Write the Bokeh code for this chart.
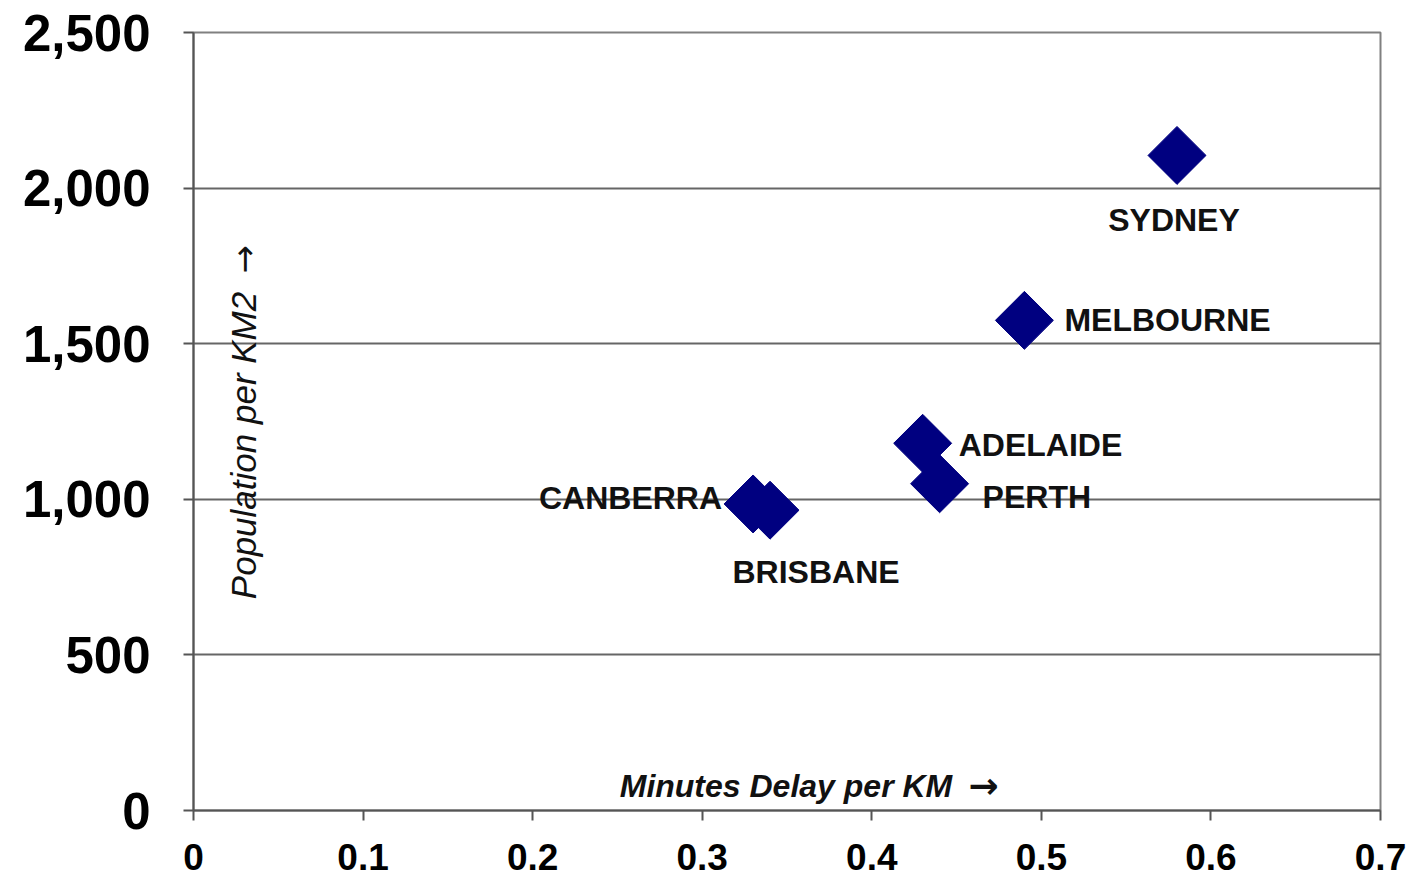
import math
from bokeh.plotting import figure
from bokeh.models import ColumnDataSource, FixedTicker, NumeralTickFormatter, CustomJSTickFormatter, Label
from bokeh.embed import file_html
from bokeh.resources import INLINE
from bokeh.core.properties import value

# ---- data ----
cities = ["SYDNEY", "MELBOURNE", "ADELAIDE", "PERTH", "CANBERRA", "BRISBANE"]
delay_per_km = [0.58, 0.49, 0.43, 0.44, 0.33, 0.34]
population_per_km2 = [2105, 1575, 1180, 1050, 985, 965]
x_ticks = [0, 0.1, 0.2, 0.3, 0.4, 0.5, 0.6, 0.7]
y_ticks = [0, 500, 1000, 1500, 2000, 2500]
x_title = "Minutes Delay per KM"
y_title = "Population per KM2"
arrow = "\u2192"

# ---- label layout (screen pixels) ----
lab_dx = [-3, 40, 36, 43, -31, 46]
lab_dy = [65, 0, 2, 13, -6, 62]
lab_align = ["center", "left", "left", "left", "right", "center"]

FONT = "Liberation Sans"

src = ColumnDataSource(dict(x=delay_per_km, y=population_per_km2, name=cities,
                            dx=lab_dx, dy=lab_dy, align=lab_align))

p = figure(width=1411, height=879, output_backend="svg", toolbar_location=None,
           x_range=(0, 0.7), y_range=(0, 2500),
           min_border_left=193, min_border_right=31, min_border_top=32, min_border_bottom=69)
p.background_fill_color = "white"
p.border_fill_color = "white"
p.outline_line_color = "#808080"
p.outline_line_width = 2

p.xgrid.grid_line_color = None
p.ygrid.grid_line_color = "#666666"
p.ygrid.grid_line_width = 2
p.ygrid.ticker = FixedTicker(ticks=y_ticks)

p.xaxis.ticker = FixedTicker(ticks=x_ticks)
p.xaxis.formatter = CustomJSTickFormatter(code="return tick == 0 ? '0' : tick.toFixed(1);")
p.yaxis.ticker = FixedTicker(ticks=y_ticks)
p.yaxis.formatter = NumeralTickFormatter(format="0,0")

for ax in (p.xaxis[0], p.yaxis[0]):
    ax.axis_line_color = "#555555"
    ax.axis_line_width = 2
    ax.major_tick_line_color = "#555555"
    ax.major_tick_line_width = 2
    ax.major_tick_in = 0
    ax.major_tick_out = 10
    ax.minor_tick_line_color = None
    ax.major_label_text_font = FONT
    ax.major_label_text_font_style = "bold"
    ax.major_label_text_color = "black"

p.xaxis.major_label_text_font_size = "37px"
p.xaxis.major_label_standoff = 23
p.yaxis.major_label_text_font_size = "51px"
p.yaxis.major_label_standoff = 33

p.scatter(x="x", y="y", source=src, marker="square", size=41, angle=math.pi / 4,
          fill_color="#000080", line_color="#000080")

p.text(x="x", y="y", text="name", source=src, x_offset="dx", y_offset="dy",
       text_align="align", text_baseline="middle",
       text_font=value(FONT), text_font_style="bold", text_font_size="32px",
       text_color="#111111")

p.add_layout(Label(x=0.3494, y=80, text=x_title,
                   text_font=FONT, text_font_style="bold italic", text_font_size="32px",
                   text_align="center", text_baseline="middle", text_color="#111111"))
p.add_layout(Label(x=0.466, y=80, text=arrow,
                   text_font="DejaVu Sans", text_font_style="bold", text_font_size="36px",
                   text_align="center", text_baseline="middle", text_color="#111111"))
p.add_layout(Label(x=0.0295, y=1173, text=y_title, angle=math.pi / 2,
                   text_font=FONT, text_font_style="italic", text_font_size="35px",
                   text_align="center", text_baseline="middle", text_color="#111111"))
p.add_layout(Label(x=0.0295, y=1771, text=arrow, angle=math.pi / 2,
                   text_font="DejaVu Sans", text_font_size="34px",
                   text_align="center", text_baseline="middle", text_color="#111111"))

open("out.html", "w").write(file_html(p, INLINE))
